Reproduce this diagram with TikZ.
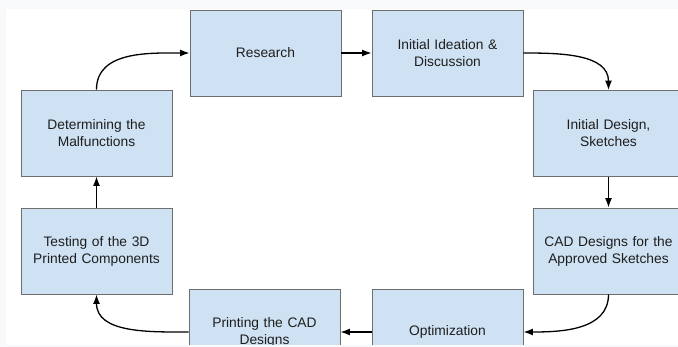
\documentclass[tikz,border=0pt]{standalone}
\usepackage{fontspec}
\setmainfont{Liberation Sans}
\usetikzlibrary{arrows.meta}
\definecolor{boxblue}{HTML}{CFE2F3}
\definecolor{boxline}{HTML}{6E6E6E}
\definecolor{pagegray}{HTML}{F8F9FA}
\definecolor{txt}{HTML}{1E1E1E}

\begin{document}
\begin{tikzpicture}[x=1pt,y=-1pt,
    stage/.style={draw=boxline, fill=boxblue, line width=0.9pt, minimum width=151pt, minimum height=86pt,
      text width=145pt, align=center, text=txt, font=\fontsize{13.8}{17}\selectfont, inner sep=0pt},
    flow/.style={line width=1.3pt, -{Latex[length=9.5pt,width=7pt]}}]
      \useasboundingbox (0,0) rectangle (678,347);
      \fill [pagegray] (0,0) rectangle (678,347);
      \fill [white] (6,9) rectangle (678,345);
      \begin{scope}
      \clip (6,9) rectangle (678,345);
      \node [stage] (research) at (265.5,53) {Research};
      \node [stage] (ideation) at (447.5,53) {Initial Ideation \&\\Discussion};
      \node [stage] (design) at (608.5,133.5) {Initial Design,\\Sketches};
      \node [stage] (cad) at (608.5,251) {CAD Designs for the\\Approved Sketches};
      \node [stage] (optim) at (447.5,332) {Optimization};
      \node [stage] (printing) at (264.5,332) {Printing the CAD\\Designs};
      \node [stage] (testing) at (96.5,251) {Testing of the 3D\\Printed Components};
      \node [stage] (determ) at (96.5,133) {Determining the\\Malfunctions};
      \draw [flow] (research) -- (ideation);
      \draw [flow] (ideation.east) to[out=0,in=90] (design.north);
      \draw [flow] (design) -- (cad);
      \draw [flow] (cad.south) to[out=-90,in=0] (optim.east);
      \draw [flow] (optim) -- (printing);
      \draw [flow] (printing.west) to[out=180,in=-90] (testing.south);
      \draw [flow] (testing) -- (determ);
      \draw [flow] (determ.north) to[out=90,in=180] (research.west);
      \end{scope}
\end{tikzpicture}
\end{document}
